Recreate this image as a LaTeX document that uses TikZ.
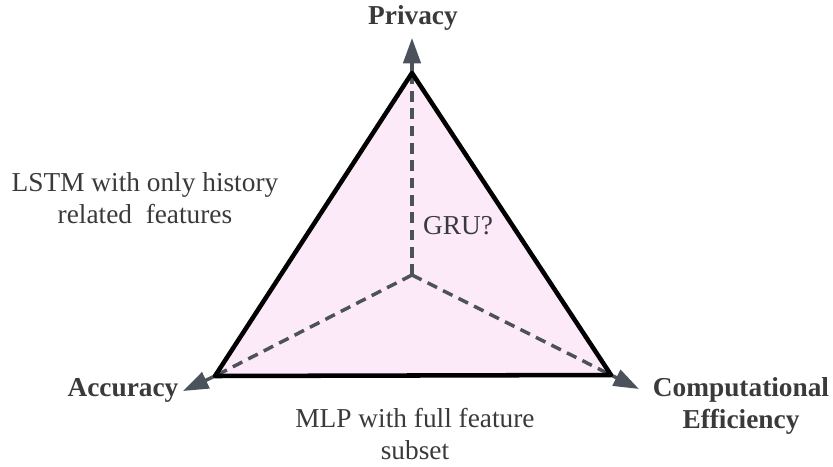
\documentclass[tikz,border=0pt]{standalone}
\usepackage{fontspec}
\setmainfont{Liberation Serif}
\usetikzlibrary{arrows.meta}
\definecolor{areafill}{HTML}{FDEAF9}
\definecolor{axisgray}{HTML}{4B525C}
\definecolor{txtgray}{HTML}{3A3A3A}
\tikzset{
  axis/.style={axisgray, line width=2.6pt, dash pattern=on 8pt off 5pt},
  axistip/.style={axisgray, line width=2.6pt, -{Triangle[length=19pt,width=13pt]}},
  edge/.style={black, line width=3.4pt, line join=round},
  caption/.style={txtgray, font=\fontsize{20.5}{24}\selectfont, align=center},
  pole/.style={txtgray, font=\bfseries\fontsize{20.5}{24.5}\selectfont, align=center},
}
\begin{document}
\begin{tikzpicture}[x=0.75pt, y=-0.75pt]
\useasboundingbox (0,0) rectangle (833,467);
% corners of the trade-off triangle and its centre
\coordinate (top) at (412,73);
\coordinate (lft) at (215,376);
\coordinate (rgt) at (611,375);
\coordinate (ctr) at (412,275);
% arrow tips just beyond each corner
\coordinate (toptip) at (412,38);
\coordinate (lfttip) at (183,391);
\coordinate (rgttip) at (639,389);

\fill[areafill] (top) -- (lft) -- (rgt) -- cycle;
\draw[axis] (ctr) -- (top);
\draw[axis] (ctr) -- (lft);
\draw[axis] (ctr) -- (rgt);
\draw[axistip] (top) -- (toptip);
\draw[axistip] (lft) -- (lfttip);
\draw[axistip] (rgt) -- (rgttip);
\draw[edge] (top) -- (lft) -- (rgt) -- cycle;

\node[pole] (privacy) at (413,18) {Privacy};
\node[pole] (accuracy) at (123,390) {Accuracy};
\node[pole] (compeff) at (741,406) {Computational\\Efficiency};
\node[caption] (lstm) at (145,198) {LSTM with only history\\related\ \ features};
\node[caption] (gru) at (458,226) {GRU?};
\node[caption] (mlp) at (415,434) {MLP with full feature\\subset};
\end{tikzpicture}
\end{document}
